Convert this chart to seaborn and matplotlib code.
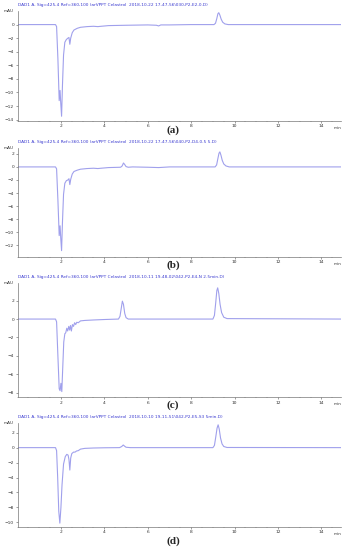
import matplotlib
matplotlib.use("Agg")
import matplotlib.pyplot as plt
import seaborn as sns
from matplotlib.ticker import MultipleLocator

# Panel (a)
time_a = [0, 1.75, 1.8, 1.86, 1.92, 1.96, 1.99, 2.03, 2.07, 2.12, 2.18, 2.25, 2.32, 2.37,
          2.41, 2.45, 2.52, 2.6, 2.75, 2.9, 3.2, 3.5, 3.7, 3.85, 4.2, 5.0, 6.0, 6.4, 6.5,
          6.6, 7.0, 8.0, 9.05, 9.12, 9.18, 9.23, 9.27, 9.32, 9.38, 9.45, 9.55, 9.7, 14.9]
signal_a = [0, 0, -0.3, -5.0, -11.2, -9.7, -11.5, -13.5, -9.0, -4.5, -2.6, -2.2, -2.0, -1.9,
            -2.9, -2.0, -1.2, -0.8, -0.55, -0.4, -0.3, -0.25, -0.3, -0.25, -0.15, -0.1, -0.05,
            -0.1, -0.2, -0.05, -0.05, 0, 0, 0.2, 0.9, 1.6, 1.75, 1.4, 0.8, 0.35, 0.1, 0, 0]

# Panel (b)
time_b = [0, 1.75, 1.8, 1.86, 1.92, 1.96, 1.99, 2.03, 2.07, 2.12, 2.18, 2.25, 2.32, 2.37,
          2.41, 2.45, 2.52, 2.6, 2.75, 2.9, 3.2, 3.5, 3.7, 3.85, 4.2, 4.75, 4.82, 4.88, 4.93,
          5.0, 5.1, 5.3, 6.0, 6.5, 7.0, 9.1, 9.17, 9.23, 9.28, 9.32, 9.37, 9.43, 9.5, 9.6,
          9.75, 14.9]
signal_b = [0, 0, -0.3, -5.0, -10.5, -9.0, -10.8, -12.8, -8.5, -4.2, -2.5, -2.1, -2.0, -1.8,
            -2.7, -1.9, -1.1, -0.7, -0.5, -0.35, -0.25, -0.2, -0.25, -0.2, -0.1, -0.05, 0.15,
            0.6, 0.4, 0.05, -0.05, 0, -0.05, -0.1, 0, 0, 0.3, 1.3, 2.1, 2.3, 1.8, 1.0, 0.45,
            0.15, 0, 0]

# Panel (c)
time_c = [0, 1.75, 1.8, 1.86, 1.92, 1.96, 2.0, 2.04, 2.08, 2.13, 2.18, 2.22, 2.27, 2.31,
          2.36, 2.4, 2.44, 2.48, 2.53, 2.58, 2.63, 2.68, 2.73, 2.8, 2.9, 3.1, 3.5, 4.0, 4.65,
          4.72, 4.78, 4.83, 4.88, 4.94, 5.0, 5.1, 5.3, 9.0, 9.07, 9.13, 9.18, 9.22, 9.27,
          9.33, 9.4, 9.5, 9.65, 14.9]
signal_c = [0, 0, -0.3, -4.0, -7.6, -7.8, -7.0, -7.9, -5.5, -2.5, -1.6, -1.5, -1.0, -1.3,
            -0.8, -1.2, -0.7, -1.3, -0.6, -0.8, -0.4, -0.6, -0.35, -0.4, -0.2, -0.15, -0.1,
            -0.05, 0, 0.3, 1.2, 1.95, 1.6, 0.6, 0.15, 0, 0, 0, 0.4, 1.8, 3.1, 3.4, 2.8, 1.6,
            0.7, 0.2, 0.05, 0]

# Panel (d)
time_d = [0, 1.75, 1.8, 1.85, 1.9, 1.95, 2.0, 2.05, 2.12, 2.2, 2.27, 2.33, 2.37, 2.41, 2.45,
          2.5, 2.58, 2.65, 2.72, 2.8, 2.9, 3.1, 3.5, 4.0, 4.7, 4.8, 4.87, 4.93, 5.0, 5.2,
          9.0, 9.07, 9.13, 9.19, 9.24, 9.29, 9.35, 9.42, 9.5, 9.65, 14.9]
signal_d = [0, 0, -0.4, -4.0, -8.5, -10.1, -8.0, -5.0, -2.2, -1.2, -0.9, -1.0, -1.6, -3.0,
            -1.4, -0.8, -0.6, -0.6, -0.45, -0.4, -0.2, -0.1, -0.05, -0.02, 0, 0.15, 0.35,
            0.2, 0.05, 0, 0, 0.3, 1.4, 2.6, 3.05, 2.5, 1.3, 0.5, 0.15, 0.02, 0]

titles = [
    "DAD1 A, Sig=425,4 Ref=360,100 (arVPPT Celastrol  2018-10-22 17-47-56\\030-P2-E2-0.D)",
    "DAD1 A, Sig=425,4 Ref=360,100 (arVPPT Celastrol  2018-10-22 17-47-56\\040-P2-D4-0.5 5.D)",
    "DAD1 A, Sig=425,4 Ref=360,100 (arVPPT Celastrol  2018-10-11 19-48-02\\042-P2-E4-N 2.5min.D)",
    "DAD1 A, Sig=425,4 Ref=360,100 (arVPPT Celastrol  2018-10-10 19-11-51\\042-P2-E5-S3 5min.D)",
]
labels = ["(a)", "(b)", "(c)", "(d)"]
ylims = [(-14.2, 2.0), (-13.75, 2.9), (-8.5, 3.9), (-10.6, 3.3)]
yticks = [list(range(-14, 1, 2)), list(range(-12, 3, 2)),
          list(range(-8, 3, 2)), list(range(-10, 3, 2))]

# axes boxes [left, bottom, width, height] in figure fraction
boxes = [[0.0506, 0.780, 0.935, 0.200],
         [0.0506, 0.533, 0.935, 0.198],
         [0.0506, 0.278, 0.935, 0.207],
         [0.0506, 0.042, 0.935, 0.189]]
label_y = [0.764, 0.518, 0.264, 0.016]

sns.set_theme(style="white")
plt.rcParams['font.family'] = ['DejaVu Sans']

fig = plt.figure(figsize=(3.46, 5.5), dpi=100)
line_color = "#a0a0ec"

panels = [(time_a, signal_a), (time_b, signal_b), (time_c, signal_c), (time_d, signal_d)]
for i, (t, s) in enumerate(panels):
    ax = fig.add_axes(boxes[i])
    sns.lineplot(x=t, y=s, ax=ax, color=line_color, linewidth=0.8, estimator=None, sort=False)
    ax.set_xlim(0, 14.9)
    ax.set_ylim(*ylims[i])
    ax.set_yticks(yticks[i])
    ax.set_xticks([2, 4, 6, 8, 10, 12, 14])
    ax.xaxis.set_minor_locator(MultipleLocator(0.5))
    ax.tick_params(axis='both', which='major', labelsize=3.2, length=1.5, width=0.4,
                   pad=1, colors='#555555', labelcolor='#333333')
    ax.tick_params(axis='x', which='minor', length=1.0, width=0.3, colors='#555555')
    ax.tick_params(bottom=True, left=True, which='both')
    for side in ['top', 'right']:
        ax.spines[side].set_visible(False)
    for side in ['left', 'bottom']:
        ax.spines[side].set_color('#777777')
        ax.spines[side].set_linewidth(0.5)
    ax.set_xlabel("")
    ax.set_ylabel("")
    ax.text(-0.012, 1.0, "mAU", transform=ax.transAxes, fontsize=3.0, color='#333333',
            ha='right', va='center')
    ax.text(1.0, -0.045, "min", transform=ax.transAxes, fontsize=3.0, color='#333333',
            ha='right', va='top')
    ax.text(0.003, 1.035, titles[i], transform=ax.transAxes, fontsize=3.1, color='#3a3ad0',
            ha='left', va='bottom')
    fig.text(0.5, label_y[i], labels[i], fontsize=8, fontweight='bold',
             family=['Liberation Serif', 'DejaVu Serif'], ha='center', va='center')

fig.savefig("out.png", dpi=100)
